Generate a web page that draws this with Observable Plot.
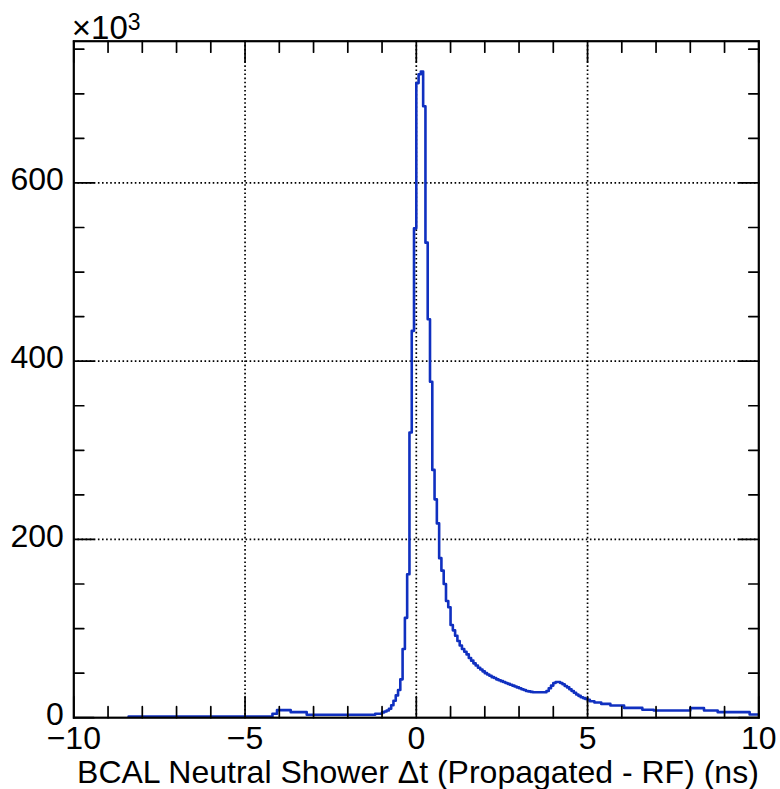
<!DOCTYPE html>
<html>
<head>
<meta charset="utf-8">
<script src="https://cdn.jsdelivr.net/npm/d3@7"></script>
<script src="https://cdn.jsdelivr.net/npm/@observablehq/plot@0.6"></script>
<style>
  html, body { margin: 0; padding: 0; background: #fff; }
  #chart svg { display: block; }
</style>
</head>
<body>
<div id="chart"></div>
<script>
// Bin left edges (ns) and contents (in units of 10^3)
const binEdges = [
  -8.4, -4.2, -4.067, -3.667, -3.2, -1.2, -1.0, -0.933, -0.867, -0.8,
  -0.733, -0.667, -0.6, -0.533, -0.467, -0.4, -0.333, -0.267, -0.2, -0.133,
  -0.067, 0, 0.067, 0.133, 0.2, 0.267, 0.333, 0.4, 0.467, 0.533,
  0.6, 0.667, 0.733, 0.8, 0.867, 0.933, 1.0, 1.067, 1.133, 1.2,
  1.267, 1.333, 1.4, 1.467, 1.533, 1.6, 1.667, 1.733, 1.8, 1.867,
  1.933, 2.0, 2.067, 2.133, 2.2, 2.267, 2.333, 2.4, 2.467, 2.533,
  2.6, 2.667, 2.733, 2.8, 2.867, 2.933, 3.0, 3.067, 3.133, 3.2,
  3.267, 3.333, 3.4, 3.8, 3.867, 3.933, 4.0, 4.067, 4.2, 4.267,
  4.333, 4.4, 4.467, 4.533, 4.6, 4.667, 4.733, 4.8, 4.867, 4.933,
  5.0, 5.067, 5.2, 5.4, 5.667, 6.067, 6.6, 6.933, 8.0, 8.4,
  8.8, 9.733
];
const lastEdge = 10;
const countsK = [
  1.2, 4.5, 8.5, 6.2, 3.3, 4.5, 6, 7, 8, 10,
  14, 19, 25, 31, 43, 77, 112, 161, 320, 434,
  549, 712, 722, 725, 686, 533, 447, 377, 278, 245,
  218, 179, 165, 150, 131, 124, 104, 98, 92, 86,
  81, 77, 74, 71, 67, 64, 61, 58.5, 56, 54,
  52, 50, 48.5, 47, 45.5, 44.5, 43, 42, 41, 40,
  39, 38, 37, 36, 35, 34, 33, 32, 31, 30,
  29.5, 29, 28.5, 30, 33, 36, 39, 40, 39, 37.5,
  35.5, 34, 32, 30, 28, 26, 24.5, 23, 22, 21,
  20, 18.5, 17, 15.5, 13.7, 11, 9, 8, 10.7, 8,
  6.2, 3.6
];

// Axis ticks
const xMajor = [-10, -5, 0, 5, 10];
const xMinor = [-9, -8, -7, -6, -4, -3, -2, -1, 1, 2, 3, 4, 6, 7, 8, 9];
const xGrid = [-5, 0, 5];
const xTickLabels = ["\u221210", "\u22125", "0", "5", "10"];
const yMajor = [0, 200, 400, 600];
const yMinor = [50, 100, 150, 250, 300, 350, 450, 500, 550, 650, 700, 750];
const yGrid = [200, 400, 600];
const yTickLabels = ["0", "200", "400", "600"];
const yMax = 759;
const xTitle = "BCAL Neutral Shower \u0394t (Propagated - RF) (ns)";

const steps = binEdges.map((e, i) => ({t: e, v: countsK[i]}));
steps.push({t: lastEdge, v: countsK[countsK.length - 1]});

const tickShape = {draw(ctx, l) { ctx.moveTo(0, 0); ctx.lineTo(0, -l); }};
const font = "'Liberation Sans', Arial, Helvetica, sans-serif";
const fs = 32;

function ticks(data, ch, anchor, rotate, length) {
  const o = {frameAnchor: anchor, rotate, length, anchor: "start", shape: tickShape, stroke: "#000", strokeWidth: 1.7};
  o[ch] = d => d;
  return Plot.vector(data, o);
}

const plot = Plot.plot({
  width: 780,
  height: 789,
  marginLeft: 73.3,
  marginRight: 21.7,
  marginTop: 40.7,
  marginBottom: 71.8,
  style: {fontFamily: font, background: "#fff", color: "#000"},
  x: {domain: [-10, 10], axis: null},
  y: {domain: [0, yMax], axis: null},
  marks: [
    Plot.gridX(xGrid, {stroke: "#000", strokeOpacity: 1, strokeWidth: 1.7, strokeDasharray: "1.6,2.5"}),
    Plot.gridY(yGrid, {stroke: "#000", strokeOpacity: 1, strokeWidth: 1.7, strokeDasharray: "1.6,2.5"}),
    Plot.line(steps, {x: "t", y: "v", curve: "step-after", stroke: "#1030c0", strokeWidth: 2.6}),
    // ticks, pointing inward on all four sides
    ticks(xMajor, "x", "bottom", 0, 21),
    ticks(xMinor, "x", "bottom", 0, 11),
    ticks(xMajor, "x", "top", 180, 21),
    ticks(xMinor, "x", "top", 180, 11),
    ticks(yMajor, "y", "left", 90, 20),
    ticks(yMinor, "y", "left", 90, 10),
    ticks(yMajor, "y", "right", -90, 20),
    ticks(yMinor, "y", "right", -90, 10),
    Plot.frame({stroke: "#000", strokeWidth: 2.2}),
    // tick labels
    Plot.text(xMajor, {x: d => d, text: (d, i) => xTickLabels[i], frameAnchor: "bottom", lineAnchor: "top", dy: 9, fontSize: fs, fill: "#000"}),
    Plot.text(yMajor, {y: d => d, text: (d, i) => yTickLabels[i], frameAnchor: "left", textAnchor: "end", dx: -10, dy: -3, fontSize: fs, fill: "#000"}),
    // axis title
    Plot.text([xTitle], {text: d => d, frameAnchor: "bottom-right", textAnchor: "end", lineAnchor: "bottom", dy: 65, fontSize: fs, fill: "#000"}),
    // exponent label
    Plot.text(["\u00d710"], {text: d => d, frameAnchor: "top-left", textAnchor: "start", lineAnchor: "bottom", dx: -2, dy: -2, fontSize: 33, fill: "#000"}),
    Plot.text(["3"], {text: d => d, frameAnchor: "top-left", textAnchor: "start", lineAnchor: "bottom", dx: 54, dy: -11, fontSize: 23, fill: "#000"})
  ]
});
document.getElementById("chart").appendChild(plot);
</script>
</body>
</html>
